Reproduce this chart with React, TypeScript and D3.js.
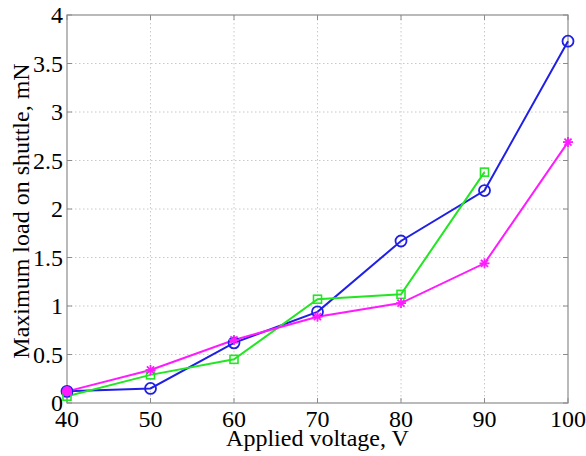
import React, { useRef, useEffect } from 'react';
import * as d3 from 'd3';

const voltages = [40, 50, 60, 70, 80, 90, 100];
const circleLoad = [0.12, 0.15, 0.62, 0.94, 1.67, 2.19, 3.73];
const squareLoad = [0.07, 0.29, 0.45, 1.07, 1.12, 2.38];
const starLoad = [0.12, 0.34, 0.65, 0.89, 1.03, 1.44, 2.69];
const xTicks = [40, 50, 60, 70, 80, 90, 100];
const yTicks = [0, 0.5, 1, 1.5, 2, 2.5, 3, 3.5, 4];

const App = () => {
  const svgRef = useRef(null);

  useEffect(() => {
    const svg = d3.select(svgRef.current);
    svg.selectAll('*').remove();

    const margin = { top: 15, right: 18, bottom: 53, left: 67 };
    const width = 586 - margin.left - margin.right;
    const height = 456 - margin.top - margin.bottom;

    const g = svg.append('g').attr('transform', `translate(${margin.left},${margin.top})`);

    const x = d3.scaleLinear().domain([40, 100]).range([0, width]);
    const y = d3.scaleLinear().domain([0, 4]).range([height, 0]);

    // dotted grid
    g.selectAll('.vgrid')
      .data(xTicks.slice(1, -1))
      .enter()
      .append('line')
      .attr('x1', d => x(d)).attr('x2', d => x(d))
      .attr('y1', 0).attr('y2', height)
      .attr('stroke', '#c8c8c8')
      .attr('stroke-dasharray', '1.5,2.5');
    g.selectAll('.hgrid')
      .data(yTicks.slice(1, -1))
      .enter()
      .append('line')
      .attr('y1', d => y(d)).attr('y2', d => y(d))
      .attr('x1', 0).attr('x2', width)
      .attr('stroke', '#c8c8c8')
      .attr('stroke-dasharray', '1.5,2.5');

    // box
    g.append('rect')
      .attr('width', width).attr('height', height)
      .attr('fill', 'none').attr('stroke', '#8c8c8c').attr('stroke-width', 1.2);

    // inward ticks
    xTicks.forEach(t => {
      g.append('line').attr('x1', x(t)).attr('x2', x(t)).attr('y1', height).attr('y2', height - 5).attr('stroke', '#8c8c8c');
      g.append('line').attr('x1', x(t)).attr('x2', x(t)).attr('y1', 0).attr('y2', 5).attr('stroke', '#8c8c8c');
    });
    yTicks.forEach(t => {
      g.append('line').attr('y1', y(t)).attr('y2', y(t)).attr('x1', 0).attr('x2', 5).attr('stroke', '#8c8c8c');
      g.append('line').attr('y1', y(t)).attr('y2', y(t)).attr('x1', width).attr('x2', width - 5).attr('stroke', '#8c8c8c');
    });

    const font = '"Liberation Serif", "Times New Roman", serif';

    g.selectAll('.xlab')
      .data(xTicks)
      .enter()
      .append('text')
      .attr('x', d => x(d))
      .attr('y', height + 24)
      .attr('text-anchor', 'middle')
      .attr('font-family', font)
      .attr('font-size', 24)
      .text(d => d);

    g.selectAll('.ylab')
      .data(yTicks)
      .enter()
      .append('text')
      .attr('x', -4)
      .attr('y', d => y(d) + 8)
      .attr('text-anchor', 'end')
      .attr('font-family', font)
      .attr('font-size', 24)
      .text(d => d);

    g.append('text')
      .attr('x', width / 2)
      .attr('y', height + 43)
      .attr('text-anchor', 'middle')
      .attr('font-family', font)
      .attr('font-size', 24)
      .text('Applied voltage, V');

    g.append('text')
      .attr('transform', `translate(${-38},${height / 2 + 2}) rotate(-90)`)
      .attr('text-anchor', 'middle')
      .attr('font-family', font)
      .attr('font-size', 24)
      .text('Maximum load on shuttle, mN');

    const line = d3.line<[number, number]>()
      .x(d => x(d[0]))
      .y(d => y(d[1]));

    const series = [
      { vals: circleLoad, color: '#1f1fe6', marker: 'circle' },
      { vals: squareLoad, color: '#22e622', marker: 'square' },
      { vals: starLoad, color: '#ff1aff', marker: 'star' },
    ];

    series.forEach(s => {
      const pts = s.vals.map((v, i) => [voltages[i], v] as [number, number]);
      g.append('path')
        .datum(pts)
        .attr('fill', 'none')
        .attr('stroke', s.color)
        .attr('stroke-width', 2)
        .attr('d', line);
    });

    // markers drawn after lines
    series.forEach(s => {
      const pts = s.vals.map((v, i) => [voltages[i], v] as [number, number]);
      pts.forEach(([vx, vy]) => {
        const cx = x(vx);
        const cy = y(vy);
        if (s.marker === 'circle') {
          g.append('circle').attr('cx', cx).attr('cy', cy).attr('r', 5.5)
            .attr('fill', vx === 40 ? s.color : 'none').attr('stroke', s.color).attr('stroke-width', 1.8);
        } else if (s.marker === 'square') {
          g.append('rect').attr('x', cx - 4).attr('y', cy - 4).attr('width', 8).attr('height', 8)
            .attr('fill', 'none').attr('stroke', s.color).attr('stroke-width', 1.6);
        } else {
          const r = 5;
          [0, 45, 90, 135].forEach(a => {
            const rad = (a * Math.PI) / 180;
            g.append('line')
              .attr('x1', cx - r * Math.cos(rad)).attr('y1', cy - r * Math.sin(rad))
              .attr('x2', cx + r * Math.cos(rad)).attr('y2', cy + r * Math.sin(rad))
              .attr('stroke', s.color).attr('stroke-width', 1.8);
          });
          if (vx === 40) {
            g.append('circle').attr('cx', cx).attr('cy', cy).attr('r', 5).attr('fill', s.color);
          }
        }
      });
    });
  }, []);

  return <svg ref={svgRef} width={586} height={456} style={{ position: 'absolute', left: 0, top: 0, background: '#fff' }} />;
};

export default App;
